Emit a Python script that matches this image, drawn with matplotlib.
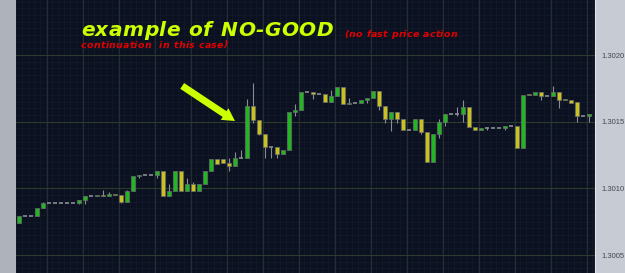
import numpy as np
import matplotlib
matplotlib.use("Agg")
import matplotlib.pyplot as plt
from matplotlib.patches import Rectangle

# OHLC (one bar per index); high/low default to body
opens = [1.30074, 1.30079, 1.30079, 1.30079, 1.30085, 1.30089, 1.30089, 1.30089, 1.30089, 1.30089,
         1.30089, 1.30091, 1.30094, 1.30094, 1.30095, 1.30094, 1.30096, 1.30095, 1.30090, 1.30098,
         1.30109, 1.30110, 1.30110, 1.30110, 1.30113, 1.30094, 1.30098, 1.30113, 1.30098, 1.30103,
         1.30098, 1.30103, 1.30113, 1.30122, 1.30122, 1.30119, 1.30117, 1.30123, 1.30123, 1.30162,
         1.30151, 1.30141, 1.30131, 1.30131, 1.30126, 1.30129, 1.30157, 1.30159, 1.30172, 1.30172,
         1.30171, 1.30171, 1.30165, 1.30169, 1.30176, 1.30163, 1.30164, 1.30164, 1.30166, 1.30168,
         1.30173, 1.30162, 1.30152, 1.30157, 1.30152, 1.30144, 1.30144, 1.30152, 1.30142, 1.30120,
         1.30141, 1.30150, 1.30156, 1.30156, 1.30156, 1.30161, 1.30146, 1.30144, 1.30145, 1.30145,
         1.30145, 1.30145, 1.30147, 1.30147, 1.30130, 1.30171, 1.30170, 1.30172, 1.30169, 1.30169,
         1.30172, 1.30167, 1.30166, 1.30165, 1.30154, 1.30154]
closes = [1.30079, 1.30079, 1.30079, 1.30085, 1.30089, 1.30089, 1.30089, 1.30089, 1.30089, 1.30089,
          1.30091, 1.30094, 1.30094, 1.30095, 1.30094, 1.30096, 1.30095, 1.30090, 1.30098, 1.30109,
          1.30110, 1.30110, 1.30110, 1.30113, 1.30094, 1.30098, 1.30113, 1.30098, 1.30103, 1.30098,
          1.30103, 1.30113, 1.30122, 1.30118, 1.30119, 1.30117, 1.30123, 1.30123, 1.30162, 1.30151,
          1.30141, 1.30131, 1.30131, 1.30126, 1.30129, 1.30157, 1.30159, 1.30172, 1.30172, 1.30171,
          1.30171, 1.30165, 1.30169, 1.30176, 1.30163, 1.30164, 1.30164, 1.30166, 1.30168, 1.30173,
          1.30162, 1.30152, 1.30157, 1.30152, 1.30144, 1.30144, 1.30152, 1.30142, 1.30120, 1.30141,
          1.30150, 1.30156, 1.30156, 1.30156, 1.30161, 1.30146, 1.30144, 1.30145, 1.30145, 1.30145,
          1.30145, 1.30147, 1.30147, 1.30130, 1.30170, 1.30170, 1.30172, 1.30169, 1.30169, 1.30172,
          1.30166, 1.30166, 1.30164, 1.30154, 1.30154, 1.30156]
# extra wicks beyond the body: {bar index: (high, low)}, None = body edge
wicks = {
    4: (1.30090, None), 10: (None, 1.30088), 11: (None, 1.30088), 14: (1.30099, None),
    15: (1.30097, None), 17: (None, 1.30089), 18: (1.30099, None), 20: (None, 1.30108),
    23: (None, 1.30108), 25: (1.30103, None), 28: (1.30108, None), 29: (1.30105, None),
    35: (1.30123, 1.30113), 36: (1.30127, None), 37: (1.30129, None), 38: (1.30167, None),
    39: (1.30179, 1.30149), 40: (None, 1.30140), 41: (None, 1.30123), 42: (None, 1.30123),
    43: (None, 1.30123), 46: (1.30163, 1.30154), 49: (None, 1.30167), 52: (1.30174, None),
    55: (1.30168, None), 58: (None, 1.30164), 60: (None, 1.30159), 61: (None, 1.30149),
    62: (None, 1.30143), 63: (None, 1.30149), 67: (None, 1.30141), 70: (1.30152, 1.30138),
    71: (None, 1.30147), 73: (1.30161, 1.30154), 74: (1.30166, 1.30150), 78: (1.30146, 1.30144),
    81: (None, 1.30144), 87: (None, 1.30166), 89: (1.30177, None), 90: (None, 1.30160),
    93: (None, 1.30150), 95: (None, 1.30150),
}
price_ticks = [1.3005, 1.3010, 1.3015, 1.3020]

BG = "#0b1120"
UP = "#1fb81f"
DOWN = "#c9c21d"
W, H = 625, 273

fig = plt.figure(figsize=(W / 100, H / 100), dpi=100, facecolor="#c7cbd3")
ax = fig.add_axes([16 / W, 0, 579 / W, 1])
ax.set_facecolor(BG)
fig.patches.append(Rectangle((0, 0), 16 / W, 1, transform=fig.transFigure,
                             facecolor="#aeb2bb", edgecolor="none", zorder=0))

n = len(opens)
x = np.arange(n)
ax.set_xlim(-0.5, 96)
ax.set_ylim(1.300365, 1.3024125)

# grid: faint minor lattice + major lines
for gx in np.arange(-0.5, 96, 1):
    ax.axvline(gx, color="#131b2b", lw=0.5, zorder=0)
for gy in np.arange(1.3004, 1.30245, 0.00005):
    ax.axhline(gy, color="#131b2b", lw=0.5, zorder=0)
for gx in np.arange(4.6, 96, 6):
    ax.axvline(gx, color="#242e2e", lw=0.8, zorder=0.5)
for gy in price_ticks:
    ax.axhline(gy, color="#2e3a2e", lw=0.8, zorder=0.5)

w = 0.75
for i in x:
    o, c = opens[i], closes[i]
    hi, lo = wicks.get(i, (None, None))
    top, bot = max(o, c), min(o, c)
    hi = top if hi is None else hi
    lo = bot if lo is None else lo
    if hi > top or lo < bot:
        ax.vlines(i, lo, hi, color="#8a8d92", lw=0.8, zorder=2)
    if c == o:
        ax.hlines(o, i - w / 2, i + w / 2, color="#8a8d92", lw=1.2, zorder=3)
        continue
    col = UP if c > o else DOWN
    ax.add_patch(Rectangle((i - w / 2, bot), w, top - bot, facecolor=col,
                           edgecolor="#6b6e70", lw=0.5, zorder=3))

ax.yaxis.tick_right()
ax.set_yticks(price_ticks)
ax.set_yticklabels([f"{p:.4f}" for p in price_ticks])
ax.tick_params(axis="y", length=0, pad=4.5, labelsize=5.5, labelcolor="#45484e")
for lab in ax.get_yticklabels():
    lab.set_family("Liberation Sans")
ax.set_xticks([])
for s in ("top", "bottom", "left"):
    ax.spines[s].set_visible(False)
ax.spines["right"].set_color("#e4e6ea")
ax.spines["right"].set_linewidth(0.8)


def spaced(s, x0, x1, base, **kw):
    """draw s letter by letter, stretched to span pixels x0..x1, baseline at pixel row base"""
    r = fig.canvas.get_renderer()
    ts = [fig.text(0, 0, ch, va="baseline", ha="left", **kw) for ch in s]
    ws = [t.get_window_extent(r).width if ch != " " else 0 for t, ch in zip(ts, s)]
    sp = fig.text(0, 0, "n", **kw)
    wsp = sp.get_window_extent(r).width * 0.55
    sp.remove()
    ws = [wsp if ch == " " else v for v, ch in zip(ws, s)]
    gap = (x1 - x0 - sum(ws)) / (len(s) - 1)
    cx = x0
    for t, v in zip(ts, ws):
        t.set_position((cx / W, 1 - base / H))
        cx += v + gap


title_kw = dict(color="#ccff00", fontsize=14.5, fontweight="bold", style="italic",
                family="DejaVu Sans")
red_kw = dict(color="#e00000", fontsize=6.8, fontweight="bold", style="italic",
              family="DejaVu Sans")
spaced("example of NO-GOOD", 81, 333, 36.3, **title_kw)
spaced("(no fast price action", 344, 457, 36.7, **red_kw)
spaced("continuation  in this case)", 81, 228, 47.5, **red_kw)

ax.annotate("", xy=(36.0, 1.301505), xytext=(27.2, 1.301768),
            arrowprops=dict(arrowstyle="simple,head_length=0.9,head_width=1.0,tail_width=0.5",
                            color="#ccff00", lw=0, shrinkA=0, shrinkB=0), zorder=5)

fig.savefig("out.png", dpi=100, facecolor=fig.get_facecolor())
